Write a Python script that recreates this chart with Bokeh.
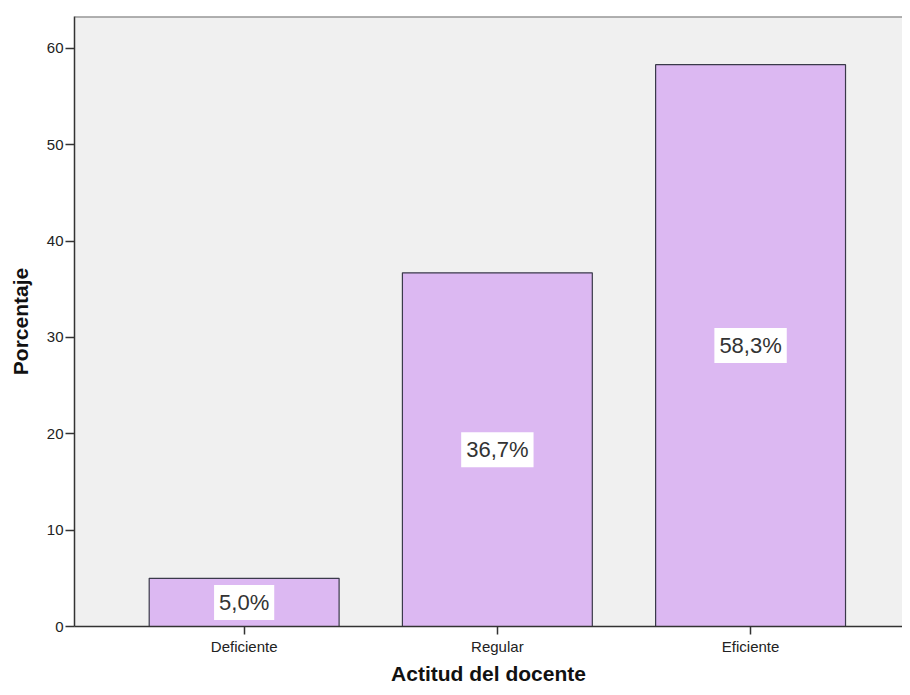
from bokeh.plotting import figure
from bokeh.models import ColumnDataSource, Range1d, FixedTicker, Label, Span
from bokeh.embed import file_html
from bokeh.resources import INLINE

categories = ["Deficiente", "Regular", "Eficiente"]
values = [5.0, 36.7, 58.3]
labels = ["5,0%", "36,7%", "58,3%"]
y_ticks = [0, 10, 20, 30, 40, 50, 60]

xs = [i + 0.67 for i in range(len(categories))]
src = ColumnDataSource(dict(x=xs, top=values))

p = figure(width=902, height=687, output_backend="svg", toolbar_location=None,
           x_range=Range1d(0, 3.27), y_range=Range1d(0, 63.3),
           min_border_left=74, min_border_right=0, min_border_top=16, min_border_bottom=58)
p.background_fill_color = "#f0f0f0"
p.border_fill_color = "white"
p.outline_line_color = None
p.grid.visible = False

p.vbar(x="x", top="top", width=0.75, bottom=0, source=src,
       fill_color="#dcb8f2", line_color="#3a3a4a", line_width=1.2)

for x, v, lab in zip(xs, values, labels):
    p.add_layout(Label(x=x, y=v / 2, text=lab, text_align="center",
                       text_baseline="middle", text_font_size="22px", text_color="#333333",
                       text_font="Liberation Sans", padding=5,
                       background_fill_color="white", background_fill_alpha=1.0))

p.add_layout(Span(location=63.3, dimension="width", line_color="#6a6a6a", line_width=2))

p.yaxis.ticker = FixedTicker(ticks=y_ticks)
p.xaxis.ticker = FixedTicker(ticks=xs)
p.xaxis.major_label_overrides = {x: c for x, c in zip(xs, categories)}
for ax in (p.xaxis, p.yaxis):
    ax.axis_line_color = "#333333"
    ax.axis_line_width = 1.5
    ax.major_tick_line_color = "#333333"
    ax.major_tick_line_width = 1.5
    ax.major_tick_out = 9
    ax.major_tick_in = 0
    ax.minor_tick_line_color = None
    ax.major_label_text_font = "Liberation Sans"
    ax.major_label_text_font_size = "15px"
    ax.major_label_text_color = "#222222"
    ax.axis_label_text_font = "Liberation Sans"
    ax.axis_label_text_font_size = "21px"
    ax.axis_label_text_font_style = "bold"
    ax.axis_label_text_color = "#111111"
p.yaxis.major_label_standoff = 2
p.xaxis.major_tick_out = 8
p.xaxis.major_label_standoff = 3
p.xaxis.axis_label = "Actitud del docente"
p.yaxis.axis_label = "Porcentaje"
p.xaxis.axis_label_standoff = 4
p.yaxis.axis_label_standoff = 12

open("out.html", "w").write(file_html(p, INLINE))
